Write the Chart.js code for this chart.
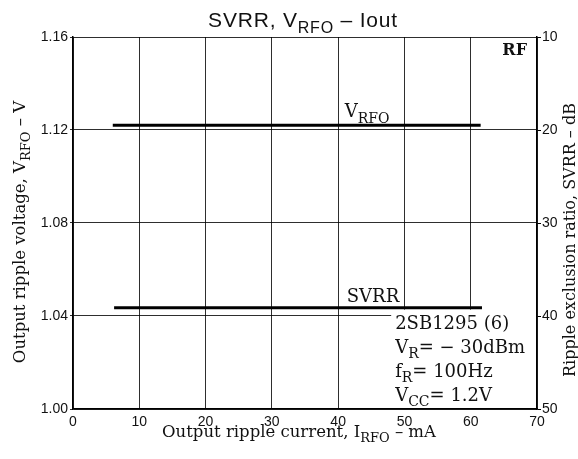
<!DOCTYPE html>
<html>
<head>
<meta charset="utf-8">
<script src="https://cdn.jsdelivr.net/npm/chart.js@4"></script>
<style>
  html, body { margin: 0; padding: 0; background: #fff; }
  #wrap { width: 578px; height: 459px; }
</style>
</head>
<body>
<div id="wrap"><canvas id="chart"></canvas></div>
<script>
// --- data ---
const vrfoCurrent = [6, 61.5];        // mA
const vrfoVolts = [1.122, 1.122];     // V
const svrrCurrent = [6.2, 61.7];      // mA
const svrrDb = [39.1, 39.1];          // dB
const xTicks = [0, 10, 20, 30, 40, 50, 60, 70];
const voltTicks = [1.00, 1.04, 1.08, 1.12, 1.16];
const dbTicks = [10, 20, 30, 40, 50];

const SANS = "'Liberation Sans', Arial, Helvetica, sans-serif";
const NARROW = "'Liberation Sans Narrow', 'Liberation Sans', Arial, sans-serif";
const SERIF = "'DejaVu Serif', 'Liberation Serif', serif";
const gridColor = 'rgba(0,0,0,0.82)';

// text with subscripts: runs = [[text, isSub], ...]
function drawRich(ctx, runs, x, y, opt) {
    const size = opt.size;
    const subSize = Math.round(size * 0.78);
    const drop = size * 0.3;
    const weight = opt.weight || 'normal';
    const fontOf = sub => `${weight} ${sub ? subSize : size}px ${opt.family}`;
    ctx.letterSpacing = opt.spacing || '0px';
    let total = 0;
    runs.forEach(([t, sub]) => { ctx.font = fontOf(sub); total += ctx.measureText(t).width; });
    let cx = x;
    if (opt.align === 'center') cx = x - total / 2;
    else if (opt.align === 'right') cx = x - total;
    ctx.textAlign = 'left';
    ctx.textBaseline = 'alphabetic';
    ctx.fillStyle = '#111';
    runs.forEach(([t, sub]) => {
        ctx.font = fontOf(sub);
        ctx.fillText(t, cx, y + (sub ? drop : 0));
        cx += ctx.measureText(t).width;
    });
    ctx.letterSpacing = '0px';
    return total;
}

function drawRotated(ctx, runs, cx, cy, opt) {
    ctx.save();
    ctx.translate(cx, cy);
    ctx.rotate(-Math.PI / 2);
    drawRich(ctx, runs, 0, opt.size * 0.36, Object.assign({ align: 'center' }, opt));
    ctx.restore();
}

const labelsPlugin = {
    id: 'chartLabels',
    beforeDatasetsDraw(chart) {
        const { ctx, chartArea: ca, scales } = chart;
        const xs = scales.x;
        const svrrY = scales.y2.getPixelForValue(svrrDb[0]);
        ctx.save();
        ctx.fillStyle = '#fff';
        // blank area behind the SVRR label
        const lx = xs.getPixelForValue(41.3);
        ctx.font = `18px ${SERIF}`;
        const lw = ctx.measureText('SVRR').width;
        ctx.fillRect(lx - 2, svrrY - 23, lw + 5, 23);
        // blank area behind the condition block
        const bx = xs.getPixelForValue(48);
        ctx.fillRect(bx, svrrY + 2, ca.right - 1 - bx, ca.bottom - 1 - (svrrY + 2));
        ctx.restore();
    },
    afterDraw(chart) {
        const { ctx, chartArea: ca, scales } = chart;
        const xs = scales.x;
        const vrfoY = scales.y.getPixelForValue(vrfoVolts[0]);
        const svrrY = scales.y2.getPixelForValue(svrrDb[0]);
        ctx.save();

        // title
        drawRich(ctx, [['SVRR, V'], ['RFO', true], [' \u2013 Iout']], 303, 27,
            { size: 21, family: SANS, align: 'center', spacing: '0.8px' });

        // curve labels
        drawRich(ctx, [['V'], ['RFO', true]], xs.getPixelForValue(41.0), vrfoY - 8,
            { size: 18, family: SERIF });
        drawRich(ctx, [['SVRR']], xs.getPixelForValue(41.3), svrrY - 5.5,
            { size: 18, family: SERIF });
        drawRich(ctx, [['RF']], ca.right - 10, ca.top + 18,
            { size: 16, family: SERIF, weight: 'bold', align: 'right' });

        // measurement conditions
        const tx = xs.getPixelForValue(48.6);
        drawRich(ctx, [['2SB1295 (6)']], tx, 329, { size: 18, family: SERIF });
        drawRich(ctx, [['V'], ['R', true], ['= \u2212 30dBm']], tx, 353, { size: 18, family: SERIF });
        drawRich(ctx, [['f'], ['R', true], ['= 100Hz']], tx, 377, { size: 18, family: SERIF });
        drawRich(ctx, [['V'], ['CC', true], ['= 1.2V']], tx, 401, { size: 18, family: SERIF });

        // axis titles
        drawRich(ctx, [['Output ripple current, I'], ['RFO', true], [' \u2013 mA']], 299, 437,
            { size: 16.5, family: SERIF, align: 'center' });
        drawRotated(ctx, [['Output ripple voltage, V'], ['RFO', true], [' \u2013 V']], 19, 232,
            { size: 16.5, family: SERIF });
        drawRotated(ctx, [['Ripple exclusion ratio, SVRR \u2013 dB']], 569, 240,
            { size: 16, family: SERIF });
        ctx.restore();
    }
};

const tickFont = { family: NARROW, size: 14 };

new Chart(document.getElementById('chart'), {
    type: 'line',
    data: {
        datasets: [
            {
                label: 'VRFO',
                data: vrfoCurrent.map((x, i) => ({ x: x, y: vrfoVolts[i] })),
                yAxisID: 'y',
                borderColor: '#000',
                borderWidth: 3,
                pointRadius: 0
            },
            {
                label: 'SVRR',
                data: svrrCurrent.map((x, i) => ({ x: x, y: svrrDb[i] })),
                yAxisID: 'y2',
                borderColor: '#000',
                borderWidth: 3,
                pointRadius: 0
            }
        ]
    },
    options: {
        responsive: true,
        maintainAspectRatio: false,
        animation: false,
        devicePixelRatio: 1,
        events: [],
        layout: { padding: { top: 37, left: 0, right: 0, bottom: 0 } },
        plugins: { legend: { display: false }, tooltip: { enabled: false } },
        scales: {
            x: {
                type: 'linear',
                min: 0, max: 70,
                afterBuildTicks: s => { s.ticks = xTicks.map(v => ({ value: v })); },
                afterFit: s => { s.height = 50; },
                grid: { color: gridColor, lineWidth: 1, drawTicks: false },
                border: { color: '#000', width: 1.5 },
                ticks: { font: tickFont, color: '#111', padding: 5, maxRotation: 0 }
            },
            y: {
                position: 'left',
                min: 1.00, max: 1.16,
                afterBuildTicks: s => { s.ticks = voltTicks.map(v => ({ value: v })); },
                afterFit: s => { s.width = 73; },
                grid: { color: gridColor, lineWidth: 1, tickLength: 3 },
                border: { color: '#000', width: 1.5 },
                ticks: { font: tickFont, color: '#111', padding: 2, callback: v => v.toFixed(2) }
            },
            y2: {
                position: 'right',
                min: 10, max: 50,
                reverse: true,
                afterBuildTicks: s => { s.ticks = dbTicks.map(v => ({ value: v })); },
                afterFit: s => { s.width = 41; },
                grid: { drawOnChartArea: false, color: '#000', tickLength: 4 },
                border: { color: '#000', width: 1.5 },
                ticks: { font: tickFont, color: '#111', padding: 1 }
            }
        }
    },
    plugins: [labelsPlugin]
});
</script>
</body>
</html>
